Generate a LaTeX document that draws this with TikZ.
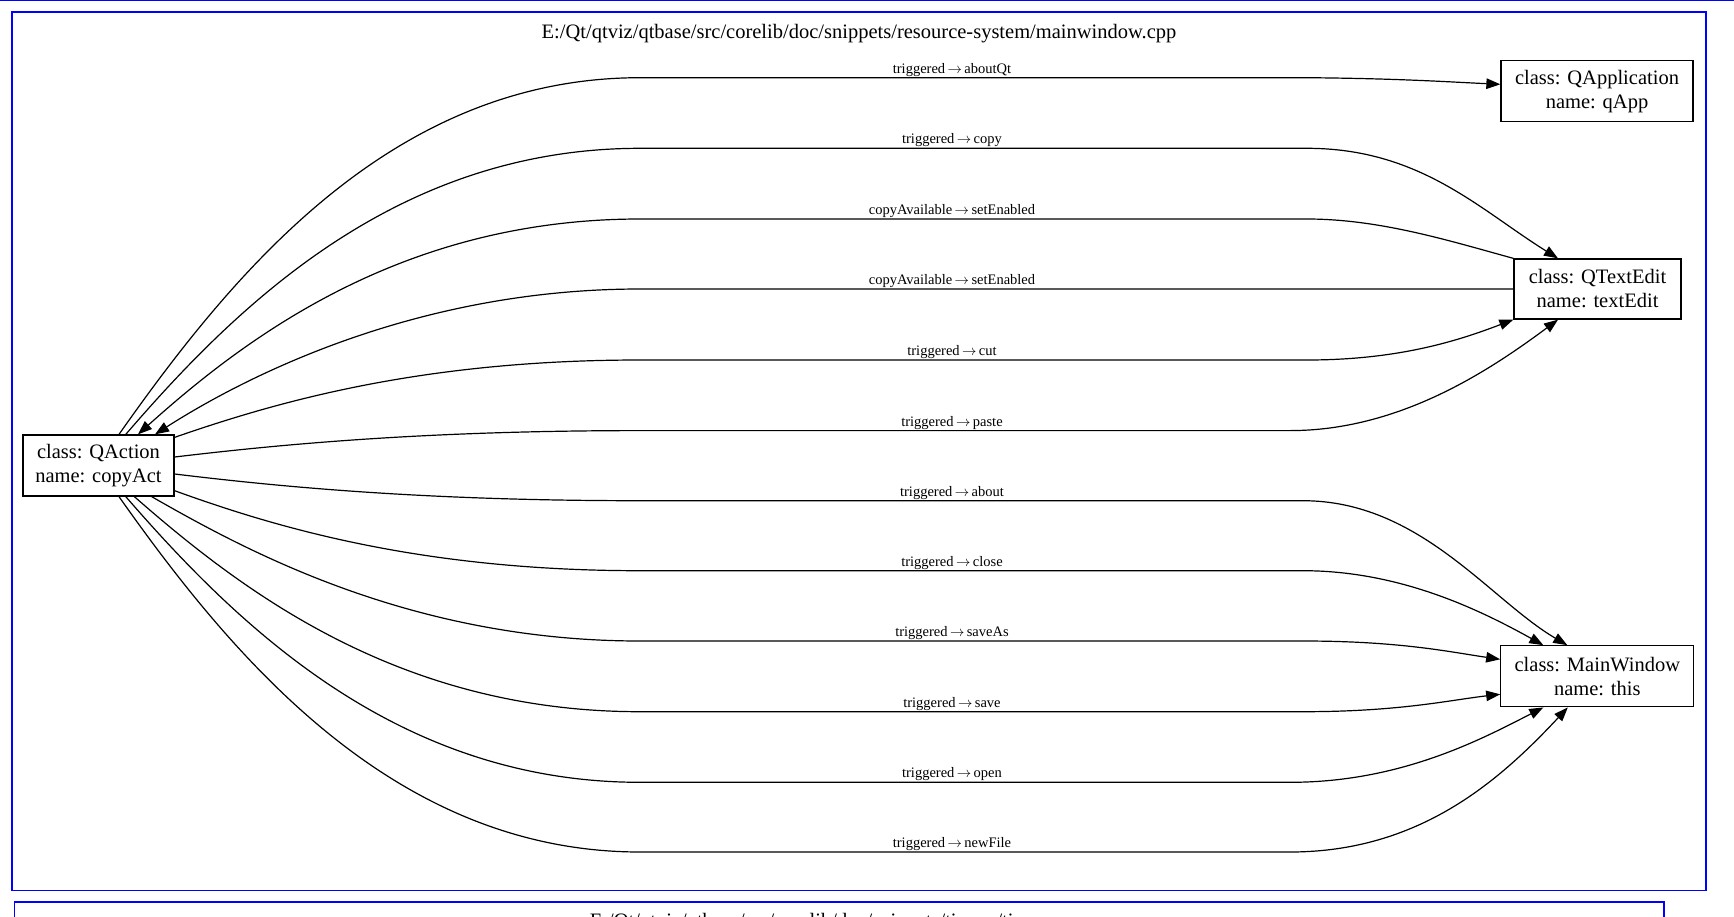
\documentclass[tikz,border=0pt]{standalone}
\usepackage{fontspec}
\setmainfont{Liberation Serif}
\usetikzlibrary{arrows.meta}
\newcommand{\sigarrow}{\,$\rightarrow$\,}
\begin{document}
\begin{tikzpicture}[x=1pt,y=-1pt,
  obj/.style={draw=black,line width=1.3pt,inner sep=0pt,align=center,font=\fontsize{20.5}{24}\selectfont,fill=white},
  edge/.style={line width=1.2pt,-{Triangle[length=14pt,width=10.5pt]}},
  lbl/.style={font=\fontsize{14.5}{16}\selectfont,inner sep=0pt,anchor=base,yshift=4.5pt},
  cluster/.style={draw=blue,line width=1.3pt},
  ttl/.style={font=\fontsize{20.5}{24}\selectfont,inner sep=0pt,anchor=base}
]
\useasboundingbox (0,0) rectangle (1734,916);
\fill[white] (0,0) rectangle (1734,916);
\begin{scope}
\clip (0,0) rectangle (1734,916);
\draw[cluster] (0,0.7) -- (1734,0.7);
\draw[cluster] (12,12) rectangle (1706,890.7);
\draw[cluster] (14.5,930) -- (14.5,902) -- (1664,902) -- (1664,930);
\node[ttl] (title2) at (839,927) {E:/Qt/qtviz/qtbase/src/corelib/doc/snippets/timers/timers.cpp};
\end{scope}
\node[ttl] (title) at (859,38.5) {E:/Qt/qtviz/qtbase/src/corelib/doc/snippets/resource-system/mainwindow.cpp};

\node[obj,minimum width=151pt,minimum height=61pt] (qa) at (98.5,465.5) {class: QAction\\name: copyAct};
\node[obj,minimum width=192pt,minimum height=61pt] (qapp) at (1597,91.2) {class: QApplication\\name: qApp};
\node[obj,minimum width=167pt,minimum height=60pt] (qte) at (1597.5,289) {class: QTextEdit\\name: textEdit};
\node[obj,minimum width=193pt,minimum height=61pt] (mw) at (1597.3,676.3) {class: MainWindow\\name: this};

% aboutQt
\draw[edge] ([xshift=20.5pt]qa.north) .. controls (234,271) and (393,77.7) .. (640,77.7)
  -- (952,77.7) node[lbl] {triggered\sigarrow aboutQt} -- (1307,77.7)
  .. controls (1400,78.5) and (1450,82) .. ([yshift=6.9pt]qapp.west);
% copy
\draw[edge] ([xshift=27.3pt]qa.north) .. controls (238.9,303) and (398.4,148.3) .. (640,148.3)
  -- (952,148.3) node[lbl] {triggered\sigarrow copy} -- (1307,148.3)
  .. controls (1420,148.3) and (1480,210) .. ([xshift=-39.5pt]qte.north);
% copyAvailable 1
\draw[edge] (qte.north west) .. controls (1450,241) and (1380,219) .. (1307,219)
  -- (952,219) node[lbl] {copyAvailable\sigarrow setEnabled} -- (640,219)
  .. controls (404,219) and (248,335.6) .. ([xshift=39.5pt]qa.north);
% copyAvailable 2
\draw[edge] (qte.west) -- (952,289) node[lbl] {copyAvailable\sigarrow setEnabled} -- (640,289)
  .. controls (412,289) and (240,380) .. ([xshift=56.5pt]qa.north);
% cut
\draw[edge] ([yshift=-3pt]qa.north east) .. controls (276.5,402) and (421,360) .. (640,360)
  -- (952,360) node[lbl] {triggered\sigarrow cut} -- (1307,360)
  .. controls (1400,360) and (1460,340) .. (qte.south west);
% paste
\draw[edge] ([yshift=8.5pt]qa.east) .. controls (276.5,444.9) and (421,430.6) .. (640,430.6)
  -- (952,430.6) node[lbl] {triggered\sigarrow paste} -- (1290,430.6)
  .. controls (1400,430.6) and (1490,370) .. ([xshift=-39.5pt]qte.south);
% about
\draw[edge] ([yshift=-8.5pt]qa.east) .. controls (276.5,486.3) and (421,500.7) .. (640,500.7)
  -- (952,500.7) node[lbl] {triggered\sigarrow about} -- (1303,500.7)
  .. controls (1420,500.7) and (1490,600) .. ([xshift=-30pt]mw.north);
% close
\draw[edge] ([yshift=-25.2pt]qa.east) .. controls (276.5,527.6) and (421,570.7) .. (640,570.7)
  -- (952,570.7) node[lbl] {triggered\sigarrow close} -- (1303,570.7)
  .. controls (1400,570.7) and (1480,610) .. ([xshift=-54pt]mw.north);
% saveAs
\draw[edge] ([xshift=53.2pt]qa.south) .. controls (245,550) and (410.5,641) .. (640,641)
  -- (952,641) node[lbl] {triggered\sigarrow saveAs} -- (1303,641)
  .. controls (1400,641) and (1450,652) .. ([yshift=17pt]mw.west);
% save
\draw[edge] ([xshift=35.9pt]qa.south) .. controls (245.6,594.2) and (402.4,711.7) .. (640,711.7)
  -- (952,711.7) node[lbl] {triggered\sigarrow save} -- (1303,711.7)
  .. controls (1400,711.7) and (1450,700) .. ([yshift=-18pt]mw.west);
% open
\draw[edge] ([xshift=27.3pt]qa.south) .. controls (238.9,626.9) and (398.3,782.3) .. (640,782.3)
  -- (952,782.3) node[lbl] {triggered\sigarrow open} -- (1290,782.3)
  .. controls (1400,782.3) and (1480,740) .. ([xshift=-54pt]mw.south);
% newFile
\draw[edge] ([xshift=20.5pt]qa.south) .. controls (233.6,659) and (395,852) .. (640,852)
  -- (952,852) node[lbl] {triggered\sigarrow newFile} -- (1290,852)
  .. controls (1420,852) and (1500,780) .. ([xshift=-29.5pt]mw.south);
\end{tikzpicture}
\end{document}
